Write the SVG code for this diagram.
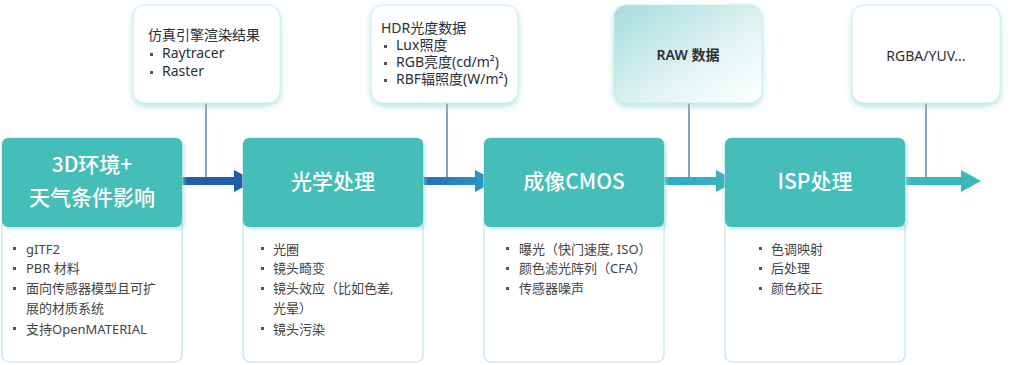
<svg xmlns="http://www.w3.org/2000/svg" width="1024" height="365" viewBox="0 0 1024 365">
<defs>
<filter id="sh" x="-20%" y="-20%" width="140%" height="150%">
<feDropShadow dx="0" dy="3" stdDeviation="3" flood-color="#7fcfcf" flood-opacity="0.55"/>
</filter>
<filter id="hs" x="-10%" y="-10%" width="125%" height="125%">
<feDropShadow dx="3" dy="3" stdDeviation="1.5" flood-color="#9fdcdc" flood-opacity="0.5"/>
</filter>
<linearGradient id="gC" x1="0" y1="0" x2="1" y2="1">
<stop offset="0" stop-color="#a5dcdb"/>
<stop offset="0.6" stop-color="#e2f4f3"/>
<stop offset="1" stop-color="#ffffff"/>
</linearGradient>
<linearGradient id="a2" x1="0" y1="0" x2="1" y2="0">
<stop offset="0" stop-color="#2170b3"/>
<stop offset="1" stop-color="#2aa0c2"/>
</linearGradient>
<linearGradient id="a3" x1="0" y1="0" x2="1" y2="0">
<stop offset="0" stop-color="#2fabc2"/>
<stop offset="1" stop-color="#38b6bb"/>
</linearGradient>
</defs>
<style>
.top{fill:#ffffff;stroke:#c9ecec;stroke-width:1;filter:url(#sh)}
.card{fill:#ffffff;stroke:#bfe5e5;stroke-width:1.2}
.hdr{fill:#45bdb9;filter:url(#hs)}
.ht{font-family:"Noto Sans CJK SC","Noto Sans",sans-serif;font-size:21px;font-weight:500;fill:#ffffff;text-anchor:middle}
.li{font-family:"Noto Sans","Noto Sans CJK SC",sans-serif;font-size:13px;fill:#444444}
.tt{font-family:"Noto Sans","Noto Sans CJK SC",sans-serif;font-size:14px;fill:#2b2f38}
.vl{stroke:#3d6396;stroke-width:1.2;fill:none}
.bul{fill:#555555}
</style>

<g id="connectors">
<line class="vl" x1="206" y1="103" x2="206" y2="181"/>
<line class="vl" x1="447" y1="103" x2="447" y2="181"/>
<line class="vl" x1="689" y1="103" x2="689" y2="181"/>
<line class="vl" x1="926" y1="103" x2="926" y2="181"/>
<polygon fill="#1f5ea8" points="182,177 234,177 234,170 255,181 234,192 234,185 182,185"/>
<polygon fill="url(#a2)" points="422,177 475,177 475,170 496,181 475,192 475,185 422,185"/>
<polygon fill="url(#a3)" points="664,177 716,177 716,170 737,181 716,192 716,185 664,185"/>
<polygon fill="#3bb9b8" points="905,177 961,177 961,170 981,181 961,192 961,185 905,185"/>
</g>

<g id="top-render">
<rect class="top" x="133" y="5" width="147" height="98" rx="12"/>
<text class="tt" x="148" y="40">仿真引擎渲染结果</text>
<rect class="bul" x="150" y="53" width="3" height="3"/>
<text class="tt" x="162" y="58">Raytracer</text>
<rect class="bul" x="150" y="71" width="3" height="3"/>
<text class="tt" x="162" y="76">Raster</text>
</g>

<g id="top-hdr">
<rect class="top" x="371" y="5" width="147" height="98" rx="12"/>
<text class="tt" x="381" y="33">HDR光度数据</text>
<rect class="bul" x="384" y="45" width="3" height="3"/>
<text class="tt" x="396" y="50">Lux照度</text>
<rect class="bul" x="384" y="62" width="3" height="3"/>
<text class="tt" x="396" y="67">RGB亮度(cd/m²)</text>
<rect class="bul" x="384" y="79" width="3" height="3"/>
<text class="tt" x="396" y="84">RBF辐照度(W/m²)</text>
</g>

<g id="top-raw">
<rect class="top" x="614" y="5" width="148" height="98" rx="12" style="fill:url(#gC)"/>
<text class="tt" x="688" y="60" text-anchor="middle" font-weight="600" fill="#2a3646">RAW 数据</text>
</g>

<g id="top-rgba">
<rect class="top" x="852" y="5" width="148" height="98" rx="12"/>
<text class="tt" x="926" y="61" text-anchor="middle">RGBA/YUV...</text>
</g>

<g id="node-3d">
<rect class="card" x="2" y="138" width="180" height="224" rx="7"/>
<rect class="hdr" x="2" y="138" width="180" height="89" rx="6"/>
<text class="ht" x="92" y="172">3D环境+</text>
<text class="ht" x="92" y="205">天气条件影响</text>
<rect class="bul" x="13" y="247" width="3" height="3"/>
<text class="li" x="26" y="254">gITF2</text>
<rect class="bul" x="13" y="267" width="3" height="3"/>
<text class="li" x="26" y="273">PBR 材料</text>
<rect class="bul" x="13" y="287" width="3" height="3"/>
<text class="li" x="26" y="293">面向传感器模型且可扩</text>
<text class="li" x="26" y="313">展的材质系统</text>
<rect class="bul" x="13" y="327" width="3" height="3"/>
<text class="li" x="26" y="334">支持OpenMATERIAL</text>
</g>

<g id="node-optics">
<rect class="card" x="243" y="138" width="180" height="224" rx="7"/>
<rect class="hdr" x="243" y="138" width="180" height="89" rx="6"/>
<text class="ht" x="333" y="189">光学处理</text>
<rect class="bul" x="261" y="247" width="3" height="3"/>
<text class="li" x="273" y="254">光圈</text>
<rect class="bul" x="261" y="267" width="3" height="3"/>
<text class="li" x="273" y="273">镜头畸变</text>
<rect class="bul" x="261" y="287" width="3" height="3"/>
<text class="li" x="273" y="293">镜头效应（比如色差,</text>
<text class="li" x="273" y="313">光晕）</text>
<rect class="bul" x="261" y="327" width="3" height="3"/>
<text class="li" x="273" y="334">镜头污染</text>
</g>

<g id="node-cmos">
<rect class="card" x="484" y="138" width="180" height="224" rx="7"/>
<rect class="hdr" x="484" y="138" width="180" height="89" rx="6"/>
<text class="ht" x="574" y="189">成像CMOS</text>
<rect class="bul" x="506" y="247" width="3" height="3"/>
<text class="li" x="519" y="254">曝光（快门速度, ISO）</text>
<rect class="bul" x="506" y="267" width="3" height="3"/>
<text class="li" x="519" y="273">颜色滤光阵列（CFA）</text>
<rect class="bul" x="506" y="287" width="3" height="3"/>
<text class="li" x="519" y="293">传感器噪声</text>
</g>

<g id="node-isp">
<rect class="card" x="725" y="138" width="180" height="224" rx="7"/>
<rect class="hdr" x="725" y="138" width="180" height="89" rx="6"/>
<text class="ht" x="815" y="189">ISP处理</text>
<rect class="bul" x="759" y="247" width="3" height="3"/>
<text class="li" x="771" y="254">色调映射</text>
<rect class="bul" x="759" y="267" width="3" height="3"/>
<text class="li" x="771" y="273">后处理</text>
<rect class="bul" x="759" y="287" width="3" height="3"/>
<text class="li" x="771" y="293">颜色校正</text>
</g>
</svg>
